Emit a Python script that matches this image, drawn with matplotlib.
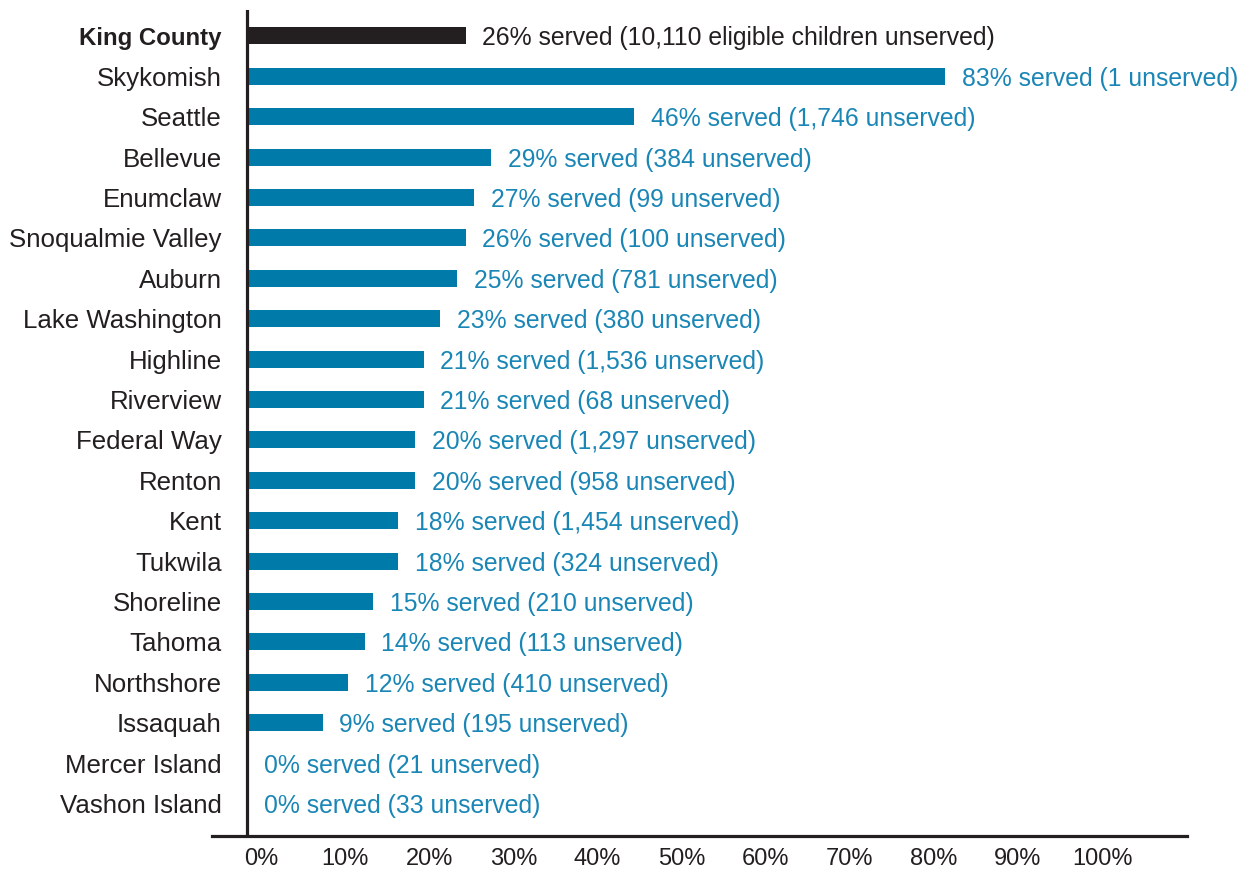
import matplotlib
matplotlib.use("Agg")
import matplotlib.pyplot as plt
from matplotlib.transforms import ScaledTranslation

plt.rcParams["font.family"] = ["Liberation Sans", "DejaVu Sans"]

districts = ["King County", "Skykomish", "Seattle", "Bellevue", "Enumclaw",
             "Snoqualmie Valley", "Auburn", "Lake Washington", "Highline",
             "Riverview", "Federal Way", "Renton", "Kent", "Tukwila",
             "Shoreline", "Tahoma", "Northshore", "Issaquah", "Mercer Island",
             "Vashon Island"]
pct_served = [26, 83, 46, 29, 27, 26, 25, 23, 21, 21, 20, 20, 18, 18, 15, 14,
              12, 9, 0, 0]
unserved = ["10,110 eligible children", "1", "1,746", "384", "99", "100", "781",
            "380", "1,536", "68", "1,297", "958", "1,454", "324", "210", "113",
            "410", "195", "21", "33"]
tick_vals = [0, 10, 20, 30, 40, 50, 60, 70, 80, 90, 100]

DARK = "#231f20"
BAR = "#007aa8"
TXT = "#1a86b5"

fig = plt.figure(figsize=(12.5, 8.72), dpi=100)
ax = fig.add_axes([212 / 1250, 1 - 835.5 / 872, (1187 - 212) / 1250, (835.5 - 10) / 872])

ys = list(range(len(districts)))
colors = [DARK] + [BAR] * (len(districts) - 1)
ax.barh(ys, pct_served, height=0.42, color=colors, zorder=2)

for i, (p, u) in enumerate(zip(pct_served, unserved)):
    ax.annotate(f"{p}% served ({u} unserved)", (p, i), xytext=(12, 0),
                textcoords="offset points", va="center_baseline", ha="left",
                fontsize=17.8, color=DARK if i == 0 else TXT)

ax.set_xlim(-4.16, 111.77)
ax.set_ylim(len(districts) - 1 + 0.79, -0.64)
ax.axvline(0, color=DARK, lw=2.3, zorder=3)

for s in ["top", "right", "left"]:
    ax.spines[s].set_visible(False)
ax.spines["bottom"].set_linewidth(2.3)
ax.spines["bottom"].set_color(DARK)

ax.set_yticks(ys)
ax.set_yticklabels(districts, fontsize=18.6, color=DARK)
ax.get_yticklabels()[0].set_fontweight("bold")
ax.get_yticklabels()[0].set_fontsize(17.3)
ax.tick_params(axis="y", length=0, pad=-7)

ax.set_xticks(tick_vals)
ax.set_xticklabels([f"{v}%" for v in tick_vals], fontsize=17, color=DARK)
ax.tick_params(axis="x", length=0, pad=9)
for lab in ax.get_xticklabels():
    lab.set_transform(lab.get_transform() + ScaledTranslation(0.14, 0, fig.dpi_scale_trans))

fig.savefig("out.png", dpi=100)
